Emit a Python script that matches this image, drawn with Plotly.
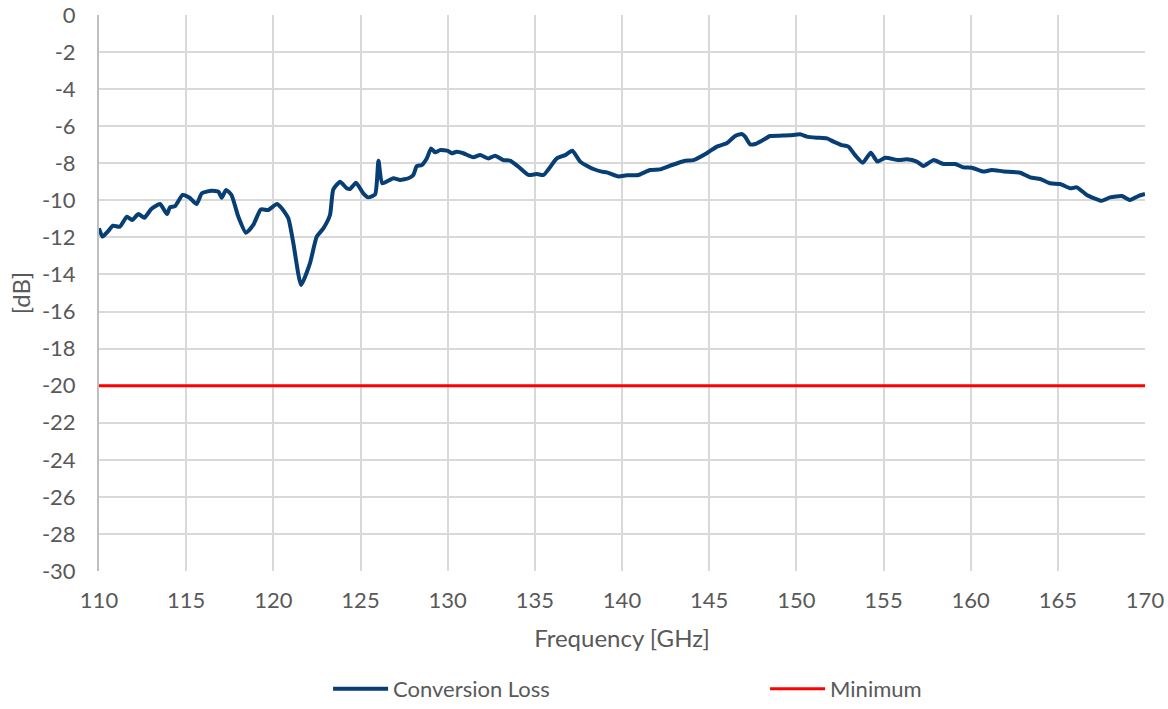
import plotly.graph_objects as go

# Measured conversion loss versus frequency
freq_ghz = [
    110.0, 110.2, 110.5, 110.8, 111.2, 111.6, 111.9, 112.26, 112.6, 113.0,
    113.5, 113.9, 114.07, 114.36, 114.8, 115.2, 115.6, 115.9, 116.46, 116.85,
    117.04, 117.29, 117.6, 117.99, 118.43, 118.85, 119.28, 119.71, 120.2, 120.48,
    120.86, 121.15, 121.59, 122.1, 122.49, 122.87, 123.25, 123.44, 123.83, 124.21,
    124.4, 124.74, 125.16, 125.45, 125.84, 126.03, 126.25, 126.88, 127.27, 127.75,
    128.03, 128.23, 128.51, 128.8, 129.05, 129.28, 129.56, 130.04, 130.23, 130.52,
    130.9, 131.47, 131.86, 132.34, 132.72, 133.2, 133.58, 134.06, 134.63, 135.11,
    135.5, 135.78, 136.26, 136.74, 137.15, 137.6, 137.98, 138.36, 138.84, 139.13,
    139.8, 140.27, 140.94, 141.61, 142.18, 142.76, 143.62, 144.1, 144.86, 145.44,
    146.01, 146.49, 146.87, 147.06, 147.35, 147.64, 148.02, 148.5, 149.07, 149.64,
    150.22, 150.6, 151.17, 151.75, 152.13, 152.61, 152.99, 153.37, 153.81, 154.27,
    154.65, 155.1, 155.86, 156.34, 156.91, 157.29, 157.86, 158.44, 159.11, 159.58,
    160.07, 160.73, 161.21, 161.88, 162.84, 163.41, 163.99, 164.56, 165.13, 165.71,
    166.09, 166.66, 167.52, 168.0, 168.67, 169.14, 169.62, 170.0,
]
conversion_loss_db = [
    -11.51, -11.96, -11.69, -11.37, -11.42, -10.88, -11.06, -10.74, -10.94, -10.47,
    -10.2, -10.74, -10.38, -10.31, -9.71, -9.86, -10.2, -9.62, -9.48, -9.53,
    -9.86, -9.44, -9.71, -10.88, -11.75, -11.33, -10.49, -10.52, -10.2, -10.43,
    -10.97, -12.32, -14.57, -13.4, -11.96, -11.51, -10.79, -9.41, -9.0, -9.35,
    -9.39, -9.05, -9.62, -9.84, -9.68, -7.86, -9.08, -8.81, -8.9, -8.81,
    -8.63, -8.15, -8.1, -7.74, -7.2, -7.41, -7.29, -7.34, -7.46, -7.38,
    -7.46, -7.68, -7.56, -7.74, -7.59, -7.83, -7.86, -8.19, -8.63, -8.58,
    -8.63, -8.33, -7.74, -7.56, -7.32, -7.91, -8.13, -8.31, -8.45, -8.49,
    -8.72, -8.65, -8.63, -8.36, -8.33, -8.13, -7.86, -7.83, -7.46, -7.1,
    -6.92, -6.53, -6.42, -6.56, -6.98, -6.96, -6.78, -6.53, -6.51, -6.49,
    -6.44, -6.56, -6.62, -6.66, -6.83, -7.02, -7.1, -7.56, -7.97, -7.43,
    -7.91, -7.7, -7.83, -7.79, -7.91, -8.15, -7.83, -8.04, -8.04, -8.22,
    -8.24, -8.45, -8.36, -8.44, -8.51, -8.76, -8.85, -9.08, -9.12, -9.35,
    -9.3, -9.71, -10.02, -9.84, -9.77, -9.98, -9.77, -9.66,
]

# Specification limit
limit_freq_ghz = [110, 170]
limit_db = [-20, -20]

# Axis ticks (plain hyphen for negative values)
x_ticks = list(range(110, 171, 5))
y_ticks = list(range(-30, 1, 2))
y_tick_labels = [str(v) for v in y_ticks]

FONT = "Lato, 'Open Sans', sans-serif"
TEXT_COLOR = "#595959"

fig = go.Figure()
fig.add_trace(go.Scatter(
    x=freq_ghz, y=conversion_loss_db, mode="lines", name="Conversion Loss",
    line=dict(color="#073E74", width=4, shape="spline", smoothing=0.5),
))
fig.add_trace(go.Scatter(
    x=limit_freq_ghz, y=limit_db, mode="lines", name="Minimum",
    line=dict(color="#FF0000", width=3),
))

fig.update_layout(
    width=1168, height=709,
    margin=dict(l=99, r=23, t=15, b=138, autoexpand=False),
    paper_bgcolor="white", plot_bgcolor="white",
    font=dict(family=FONT, size=22, color=TEXT_COLOR),
    showlegend=True,
    legend=dict(
        orientation="h", x=0.219, xanchor="left", y=-0.212, yanchor="middle",
        entrywidth=367, entrywidthmode="pixels",
        font=dict(family=FONT, size=22, color=TEXT_COLOR),
        itemwidth=55,
    ),
    xaxis=dict(
        range=[110, 170], tickvals=x_ticks,
        showgrid=True, gridcolor="#D9D9D9", gridwidth=2,
        zeroline=False, showline=False, ticks="", ticklabelstandoff=14,
        automargin=False,
        title=dict(text="Frequency [GHz]", font=dict(size=24, color=TEXT_COLOR), standoff=18),
        tickfont=dict(size=22, color=TEXT_COLOR),
    ),
    yaxis=dict(
        range=[-30, 0], tickvals=y_ticks, ticktext=y_tick_labels,
        showgrid=True, gridcolor="#D9D9D9", gridwidth=2,
        zeroline=False, showline=True, linecolor="#BFBFBF", linewidth=2,
        ticks="", ticklabelstandoff=17, automargin=False,
        title=dict(text="[dB]", font=dict(size=24, color=TEXT_COLOR), standoff=4),
        tickfont=dict(size=22, color=TEXT_COLOR),
    ),
)

fig.write_html("out.html")
